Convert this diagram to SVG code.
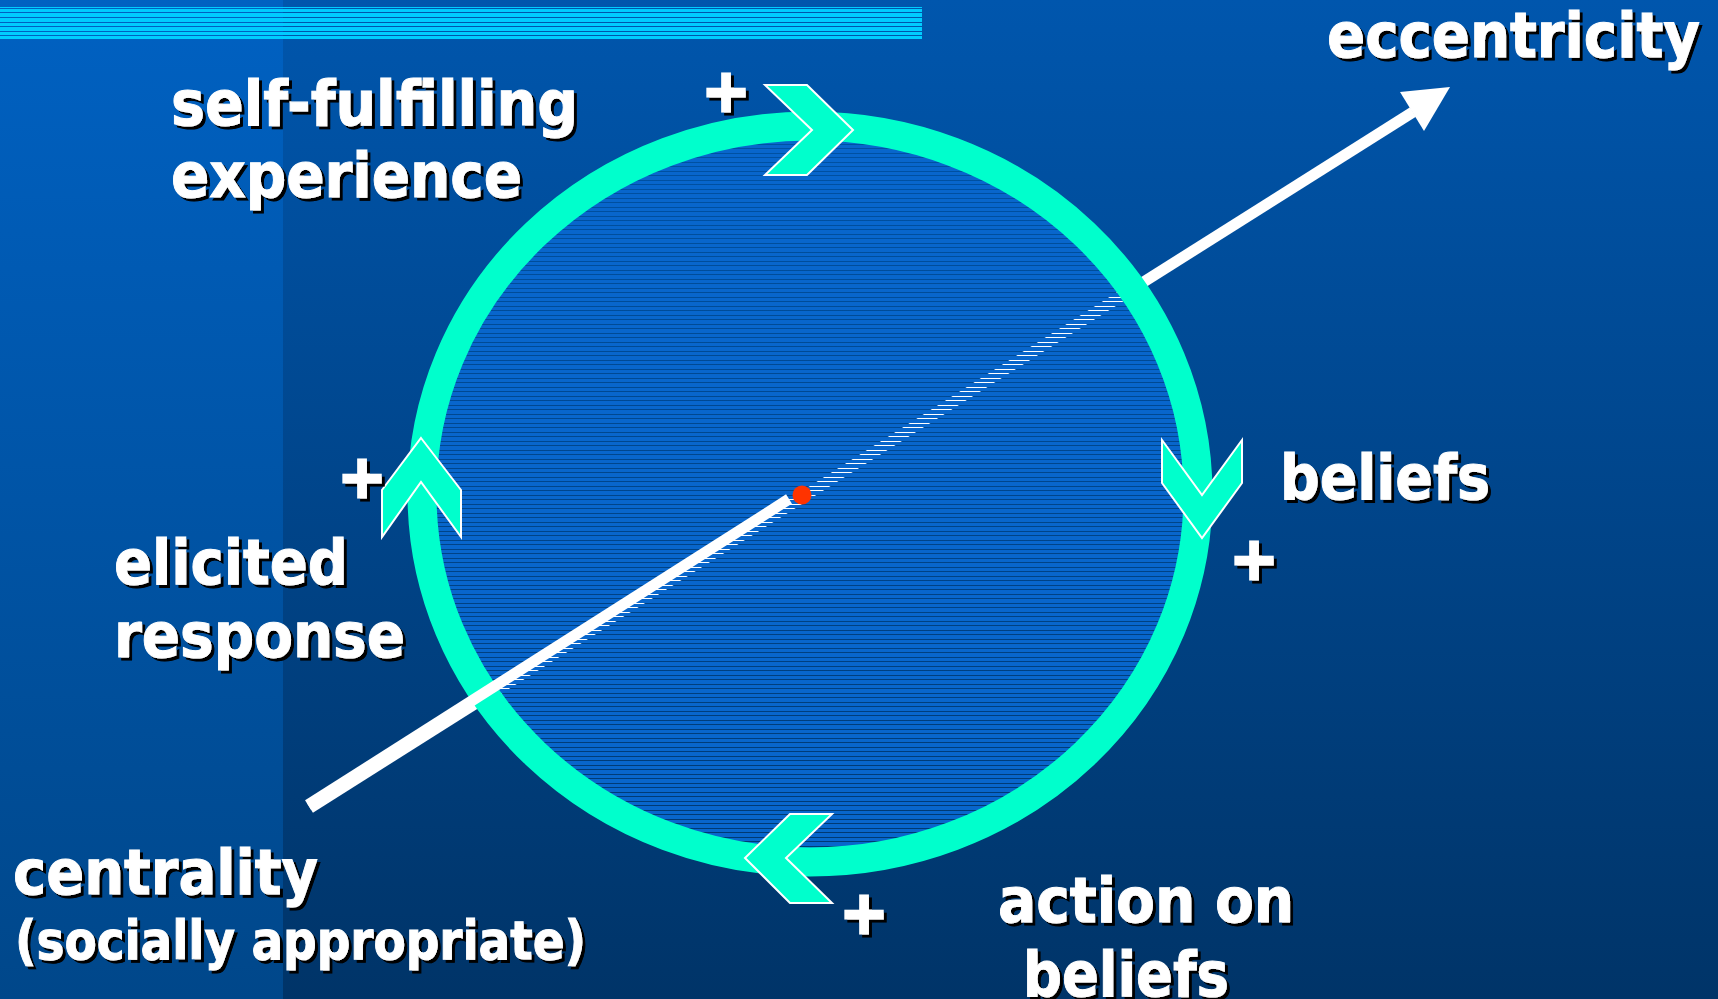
<svg xmlns="http://www.w3.org/2000/svg" width="1718" height="999" viewBox="0 0 1718 999">
  <defs>
    <linearGradient id="bgMain" x1="0" y1="0" x2="0" y2="1">
      <stop offset="0" stop-color="#0056ad"/>
      <stop offset="1" stop-color="#003468"/>
    </linearGradient>
    <linearGradient id="bgStrip" x1="0" y1="0" x2="0" y2="1">
      <stop offset="0" stop-color="#0061c2"/>
      <stop offset="1" stop-color="#00478a"/>
    </linearGradient>
    <!-- horizontal hatching: opaque blue rows with 1px see-through gaps -->
    <pattern id="hatch" x="0" y="0" width="16" height="9" patternUnits="userSpaceOnUse">
      <rect x="0" y="1" width="16" height="3" fill="#0866cc"/>
      <rect x="0" y="5" width="16" height="4" fill="#0866cc"/>
    </pattern>
    <filter id="shadow" x="-10%" y="-20%" width="120%" height="150%">
      <feFlood flood-color="#000000" result="black"/>
      <feComposite in="black" in2="SourceAlpha" operator="in" result="shape"/>
      <feOffset in="shape" dx="3" dy="3" result="drop"/>
      <feMerge>
        <feMergeNode in="drop"/>
        <feMergeNode in="SourceGraphic"/>
      </feMerge>
    </filter>
  </defs>
  <style>
    .label { font-family: "DejaVu Sans", "Noto Sans", sans-serif; font-weight: bold; font-size: 62px; fill: #ffffff; stroke: #ffffff; stroke-width: 1; filter: url(#shadow); }
    .small { font-size: 54px; }
    .plus { font-family: "DejaVu Sans", "Noto Sans", sans-serif; font-weight: bold; font-size: 58px; fill: #ffffff; stroke: #ffffff; stroke-width: 3; text-anchor: middle; filter: url(#shadow); }
    .stripe { fill: #00ccff; }
    .chevron { fill: #00ffcc; stroke: #ffffff; stroke-width: 2; stroke-linejoin: miter; }
    .axis { stroke: #ffffff; stroke-width: 11; fill: none; stroke-linecap: butt; }
  </style>

  <!-- background -->
  <rect x="0" y="0" width="1718" height="999" fill="url(#bgMain)"/>
  <rect x="0" y="0" width="283" height="999" fill="url(#bgStrip)"/>

  <!-- striped title bar -->
  <g id="title-bar">
    <rect class="stripe" x="0" y="7" width="922" height="1" fill="#33d6ff"/>
    <rect class="stripe" x="0" y="9" width="922" height="3"/>
    <rect class="stripe" x="0" y="13" width="922" height="4"/>
    <rect class="stripe" x="0" y="18" width="922" height="4"/>
    <rect class="stripe" x="0" y="23" width="922" height="3"/>
    <rect class="stripe" x="0" y="27" width="922" height="4"/>
    <rect class="stripe" x="0" y="32" width="922" height="3"/>
    <rect class="stripe" x="0" y="36" width="922" height="3"/>
  </g>

  <!-- centrality / eccentricity axis, the cycle ring and its chevrons -->
  <g id="connectors">
    <line class="axis" x1="310" y1="808" x2="1413" y2="112"/>
    <g id="cycle-disk">
      <ellipse cx="810" cy="494" rx="388" ry="368" fill="url(#hatch)"/>
      <ellipse cx="810" cy="494" rx="388" ry="368" fill="none" stroke="#00ffcc" stroke-width="29"/>
    </g>
    <polygon points="1450,87 1400,92 1424,131" fill="#ffffff"/>
    <line class="axis" x1="308" y1="805" x2="789" y2="499"/>
    <circle cx="802" cy="495" r="9.5" fill="#ff3300"/>
    <polygon class="chevron" points="765,85 807,85 853,130 807,175 765,175 812,130"/>
    <polygon class="chevron" points="1162,440 1202,495 1242,440 1242,483 1202,538 1162,483"/>
    <polygon class="chevron" points="832,814 790,814 745,858 790,903 832,903 786,858"/>
    <polygon class="chevron" points="421,438 461,490 461,537 421,482 382,537 382,490"/>
  </g>

  <g id="node-self-fulfilling">
    <text class="label" x="171" y="125" textLength="407" lengthAdjust="spacingAndGlyphs">self-fulfilling</text>
    <text class="label" x="171" y="197" textLength="351" lengthAdjust="spacingAndGlyphs">experience</text>
    <text class="plus" x="726" y="111">+</text>
  </g>

  <g id="node-eccentricity">
    <text class="label" x="1327" y="57" textLength="373" lengthAdjust="spacingAndGlyphs">eccentricity</text>
  </g>

  <g id="node-beliefs">
    <text class="label" x="1280" y="499" textLength="210" lengthAdjust="spacingAndGlyphs">beliefs</text>
    <text class="plus" x="1254" y="579">+</text>
  </g>

  <g id="node-elicited-response">
    <text class="label" x="114" y="584" textLength="234" lengthAdjust="spacingAndGlyphs">elicited</text>
    <text class="label" x="114" y="657" textLength="291" lengthAdjust="spacingAndGlyphs">response</text>
    <text class="plus" x="362" y="497">+</text>
  </g>

  <g id="node-action">
    <text class="label" x="998" y="922" textLength="296" lengthAdjust="spacingAndGlyphs">action on</text>
    <text class="label" x="1023" y="996" textLength="206" lengthAdjust="spacingAndGlyphs">beliefs</text>
    <text class="plus" x="864" y="933">+</text>
  </g>

  <g id="node-centrality">
    <text class="label" x="13" y="894" textLength="305" lengthAdjust="spacingAndGlyphs">centrality</text>
    <text class="label small" x="15" y="959" textLength="571" lengthAdjust="spacingAndGlyphs">(socially appropriate)</text>
  </g>
</svg>
